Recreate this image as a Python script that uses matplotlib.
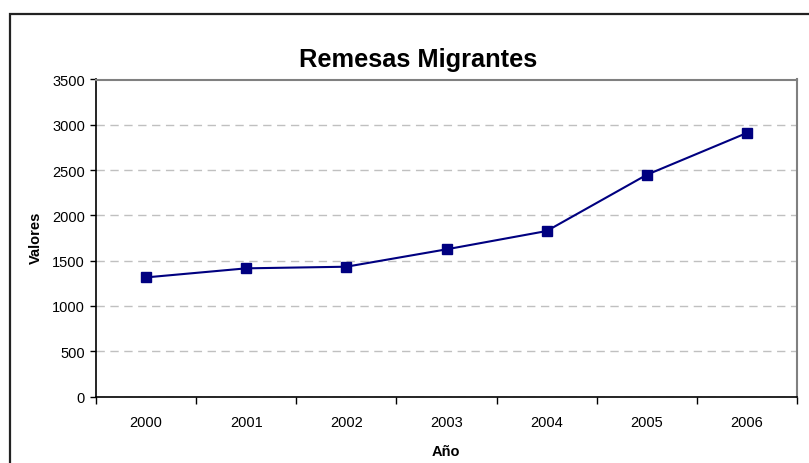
import matplotlib.pyplot as plt
from matplotlib.patches import Rectangle

plt.rcParams['font.family'] = ['Liberation Sans', 'DejaVu Sans']

years = ['2000', '2001', '2002', '2003', '2004', '2005', '2006']
remesas = [1315, 1415, 1433, 1625, 1827, 2448, 2910]

W, H = 809, 464
fig = plt.figure(figsize=(W / 100, H / 100), dpi=100)

# chart area frame (runs off the right and bottom edges)
fig.patches.append(Rectangle((10 / W, -0.05), 1.05, 1 - 15 / H + 0.05,
                             transform=fig.transFigure, fill=False,
                             edgecolor='#222222', linewidth=1.6, zorder=0))

ax = fig.add_axes([96 / W, 1 - 397.5 / H, (797 - 96) / W, (397.5 - 80.5) / H])

x = list(range(len(years)))
ax.plot(x, remesas, color='#000080', linewidth=1.5, marker='s',
        markersize=6.5, markerfacecolor='#000080', markeredgecolor='#000080',
        zorder=3)

ax.set_xlim(-0.5, len(years) - 0.5)
ax.set_ylim(0, 3500)
ax.set_yticks(range(0, 3501, 500))
ax.set_xticks(x)
ax.set_xticklabels(years)
ax.set_xticks([i - 0.5 for i in range(len(years) + 1)], minor=True)
ax.tick_params(axis='x', which='major', length=0, pad=13, labelsize=10.5)
ax.tick_params(axis='x', which='minor', length=5, width=1, direction='out')
ax.tick_params(axis='y', length=4, width=1, direction='out', pad=4,
               labelsize=10.5)

ax.yaxis.grid(True, color='#c0c0c0', linestyle=(0, (6, 4)), linewidth=1)
ax.set_axisbelow(True)

for side in ['left', 'bottom']:
    ax.spines[side].set_color('black')
    ax.spines[side].set_linewidth(1.2)
for side in ['top', 'right']:
    ax.spines[side].set_color('#808080')
    ax.spines[side].set_linewidth(1.5)

fig.text(418 / W, 1 - 60 / H, 'Remesas Migrantes', ha='center', va='center',
         fontsize=18.3, fontweight='bold')
fig.text(36 / W, 1 - 238 / H, 'Valores', ha='center', va='center',
         rotation=90, fontsize=10.5, fontweight='bold')
fig.text(446 / W, 1 - 452 / H, 'Año', ha='center', va='center',
         fontsize=10.5, fontweight='bold')

fig.savefig('out.png', dpi=100)
